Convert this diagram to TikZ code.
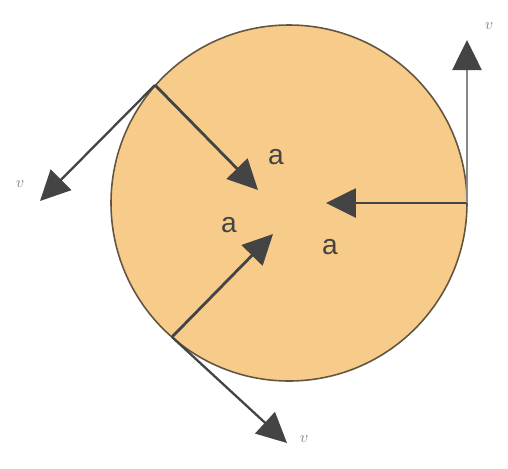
\documentclass[tikz,border=0pt]{standalone}
\usepackage{fontspec}
\newfontfamily\labelfont{Liberation Sans}
\usetikzlibrary{arrows.meta, calc, positioning}
\definecolor{bodyfill}{RGB}{247,204,138}
\definecolor{rimline}{RGB}{100,85,65}
\definecolor{vecdark}{RGB}{68,68,68}
\definecolor{vecgray}{RGB}{135,135,135}

\begin{document}
\begin{tikzpicture}[x=0.02cm, y=-0.02cm,
    vec/.style={draw=vecdark, line width=1.6pt, -{Triangle[length=0.6cm, width=0.58cm]}},
    acc/.style={font=\labelfont\fontsize{16}{17}\selectfont, text=vecdark},
    vel/.style={font=\small, text=vecgray}]
    \useasboundingbox (0,0) rectangle (508,468);

    % Disc
    \coordinate (O) at (289,203);
    \draw[fill=bodyfill, draw=rimline, line width=0.9pt] (O) circle[radius=178];

    % Points on the rim
    \coordinate (p1) at (155,85);
    \coordinate (p2) at (467,203);
    \coordinate (p3) at (172,337);

    % Arrow tips
    \coordinate (a1) at (258,190);
    \coordinate (a2) at (326,203);
    \coordinate (a3) at (273,234);
    \coordinate (v1) at (40,201);
    \coordinate (v2) at (467,40);
    \coordinate (v3) at (287,443);

    % Accelerations
    \draw[vec] (p1) -- (a1);
    \draw[vec] (p2) -- (a2);
    \draw[vec] (p3) -- (a3);

    % Velocities
    \draw[vec, line width=1.3pt] (p1) -- (v1);
    \draw[vec, draw=vecgray, line width=1.5pt, -{Triangle[length=0.6cm, width=0.58cm, color=vecdark]}] (p2) -- (v2);
    \draw[vec, line width=1.3pt] (p3) -- (v3);

    % Labels
    \node[acc] (la1) at (276,157) {a};
    \node[acc] (la3) at (229,225) {a};
    \node[acc] (la2) at (330,247) {a};
    \node[vel] (lv1) at (20,184) {$v$};
    \node[vel] (lv2) at (489,26) {$v$};
    \node[vel] (lv3) at (304,439) {$v$};
\end{tikzpicture}
\end{document}
